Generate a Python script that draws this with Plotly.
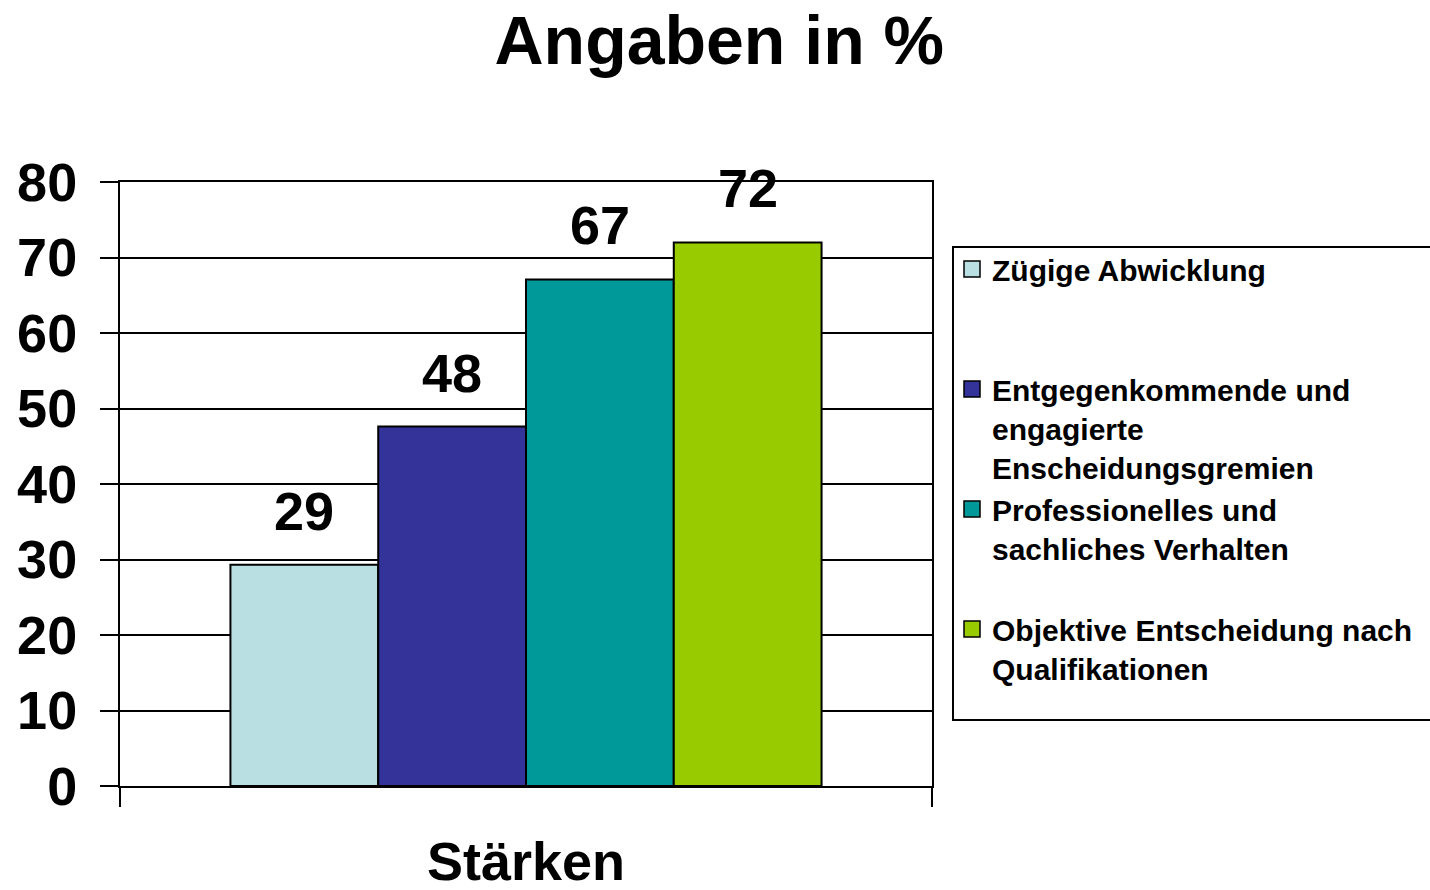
import plotly.graph_objects as go

# ---- data ----
category = ["Stärken"]
series_names = [
    "Zügige Abwicklung",
    "Entgegenkommende und<br>engagierte<br>Enscheidungsgremien",
    "Professionelles und<br>sachliches Verhalten",
    "Objektive Entscheidung nach<br>Qualifikationen",
]
values = [29.3, 47.6, 67.1, 72.0]
value_labels = ["29", "48", "67", "72"]
colors = ["#BADFE2", "#333399", "#009999", "#99CC00"]
y_ticks = [0, 10, 20, 30, 40, 50, 60, 70, 80]

FONT = "Liberation Sans, Arial, sans-serif"
BARGAP = 0.272

fig = go.Figure()
for name, v, c in zip(series_names, values, colors):
    fig.add_trace(go.Bar(
        x=category, y=[v], name=name, showlegend=False,
        marker=dict(color=c, line=dict(color="black", width=2)),
    ))

# legend entries (square swatches), padded to a uniform three-line height
for name, c in zip(series_names, colors):
    nlines = name.count("<br>") + 1
    legend_name = name + "<br> " * (3 - nlines)
    fig.add_trace(go.Scatter(
        x=[None], y=[None], mode="markers", name=legend_name,
        marker=dict(symbol="square", size=16, color=c,
                    line=dict(color="black", width=1.5)),
    ))

# value labels above bars, positioned from the group layout
n = len(values)
group_w = 1 - BARGAP
w = group_w / n
for i, (v, lab) in enumerate(zip(values, value_labels)):
    fig.add_annotation(
        x=-group_w / 2 + w * (i + 0.5), y=v, xref="x", yref="y",
        text=lab, showarrow=False, yanchor="bottom", yshift=22,
        font=dict(family=FONT, size=54, color="black", weight="bold"),
    )

# legend frame (runs off the right edge like the original)
fig.add_shape(
    type="rect", xref="paper", yref="paper",
    x0=(953 - 120) / 812, x1=1.8, y0=(786 - 720) / 604, y1=(786 - 247) / 604,
    line=dict(color="black", width=2), fillcolor="white", layer="below",
)

fig.update_layout(
    width=1430, height=890,
    margin=dict(l=120, r=498, t=182, b=104, autoexpand=False),
    paper_bgcolor="white", plot_bgcolor="white",
    barmode="group", bargap=BARGAP, bargroupgap=0,
    hovermode=False,
    title=dict(
        text="Angaben in %", x=0.503, xanchor="center",
        y=1 - 40 / 890, yanchor="middle", yref="container",
        font=dict(family=FONT, size=68, color="black", weight="bold"),
    ),
    font=dict(family=FONT, color="black"),
    legend=dict(
        x=(952 - 120) / 812, xanchor="left",
        y=(786 - 243) / 604, yanchor="top",
        bgcolor="rgba(0,0,0,0)", borderwidth=0,
        font=dict(family=FONT, size=30, color="black", weight="bold"),
        valign="top", traceorder="normal", itemsizing="trace",
    ),
    showlegend=True,
)

fig.update_xaxes(
    type="category", showline=True, linecolor="black", linewidth=2, mirror=True,
    ticks="outside", tickson="boundaries", ticklen=19, tickwidth=2, tickcolor="black",
    showgrid=False, ticklabelstandoff=27,
    tickfont=dict(family=FONT, size=54, color="black", weight="bold"),
)
fig.update_yaxes(
    range=[0, 80], tickvals=y_ticks, showline=True, linecolor="black", linewidth=2,
    mirror=True, ticks="outside", ticklen=18, tickwidth=2, tickcolor="black",
    showgrid=True, gridcolor="black", gridwidth=2, zeroline=False,
    ticklabelstandoff=12,
    tickfont=dict(family=FONT, size=54, color="black", weight="bold"),
)

fig.write_html("out.html", config={"displayModeBar": False},
               post_script="document.body.style.margin='0';")
